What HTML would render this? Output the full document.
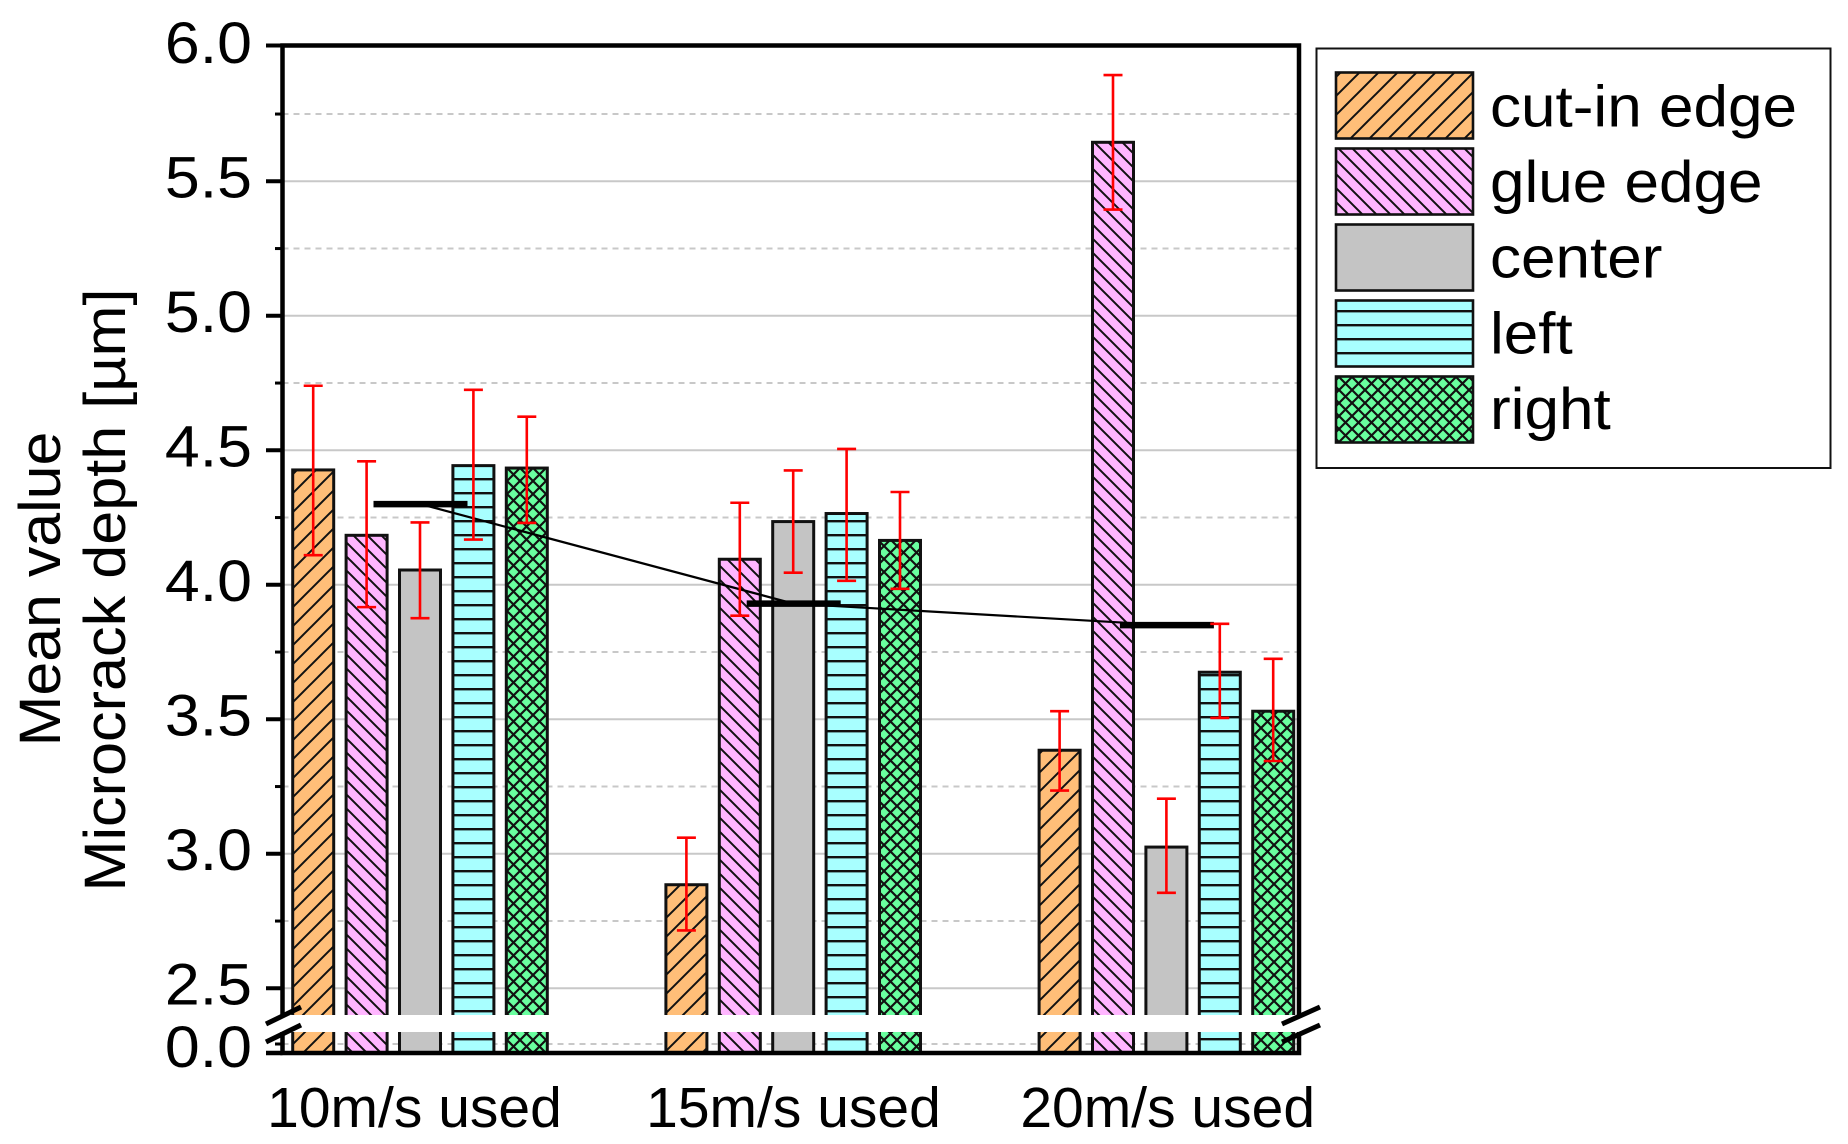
<!DOCTYPE html>
<html lang="en">
<head>
<meta charset="utf-8">
<title>Mean value microcrack depth</title>
<style>
html,body{margin:0;padding:0;background:#fff;}
svg{display:block;}
text{font-family:"Liberation Sans",sans-serif;fill:#000;}
</style>
</head>
<body>
<svg id="chart" xmlns="http://www.w3.org/2000/svg" width="1848" height="1144" viewBox="0 0 1848 1144">
  <defs>
    <pattern id="hatch-orange" patternUnits="userSpaceOnUse" width="19" height="19" patternTransform="translate(7,0)">
      <rect width="19" height="19" fill="#FFBE78"/>
      <path d="M-2 21L21 -2" stroke="#111" stroke-width="2"/>
      <path d="M-2 2L2 -2M17 21L21 17" stroke="#111" stroke-width="2"/>
    </pattern>
    <pattern id="hatch-pink" patternUnits="userSpaceOnUse" width="14" height="14">
      <rect width="14" height="14" fill="#FFB6FF"/>
      <path d="M-2 -2L16 16M-2 12L2 16M12 -2L16 2" stroke="#111" stroke-width="2"/>
    </pattern>
    <pattern id="hatch-grey" patternUnits="userSpaceOnUse" width="10" height="10">
      <rect width="10" height="10" fill="#C4C4C4"/>
    </pattern>
    <pattern id="hatch-cyan" patternUnits="userSpaceOnUse" width="14" height="14">
      <rect width="14" height="14" fill="#A8FFFF"/>
      <rect y="2" width="14" height="2.4" fill="#111"/>
    </pattern>
    <pattern id="hatch-green" patternUnits="userSpaceOnUse" width="13" height="13">
      <rect width="13" height="13" fill="#69FF9F"/>
      <path d="M-2 -2L15 15M-2 11L2 15M11 -2L15 2M-2 15L15 -2M-2 2L2 -2M11 15L15 11" stroke="#111" stroke-width="2.2"/>
    </pattern>
  </defs>
  <g id="grid"></g>
  <g id="bars"></g>
  <g id="axes"></g>
  <g id="means"></g>
  <g id="errors"></g>
  <g id="breaks"></g>
  <g id="labels"></g>
  <g id="legend"></g>
</svg>
<script>
var categories = ['10m/s used', '15m/s used', '20m/s used'];
var seriesNames = ['cut-in edge', 'glue edge', 'center', 'left', 'right'];
var seriesFills = ['hatch-orange', 'hatch-pink', 'hatch-grey', 'hatch-cyan', 'hatch-green'];
var cutInValues = [4.427, 2.885, 3.385];
var glueValues = [4.184, 4.095, 5.645];
var centerValues = [4.055, 4.235, 3.025];
var leftValues = [4.443, 4.265, 3.675];
var rightValues = [4.434, 4.165, 3.53];
var cutInHigh = [4.74, 3.06, 3.53];
var glueHigh = [4.459, 4.305, 5.895];
var centerHigh = [4.232, 4.425, 3.205];
var leftHigh = [4.725, 4.505, 3.855];
var rightHigh = [4.625, 4.345, 3.725];
var cutInLow = [4.11, 2.715, 3.235];
var glueLow = [3.917, 3.885, 5.395];
var centerLow = [3.876, 4.045, 2.855];
var leftLow = [4.168, 4.015, 3.505];
var rightLow = [4.23, 3.985, 3.345];
var meanValues = [4.30, 3.93, 3.85];
var majorTicks = [6.0, 5.5, 5.0, 4.5, 4.0, 3.5, 3.0, 2.5, 0.0];
var tickLabels = ['6.0', '5.5', '5.0', '4.5', '4.0', '3.5', '3.0', '2.5', '0.0'];
var minorTicks = [5.75, 5.25, 4.75, 4.25, 3.75, 3.25, 2.75, 0.25];

var seriesValues = [cutInValues, glueValues, centerValues, leftValues, rightValues];
var seriesHigh = [cutInHigh, glueHigh, centerHigh, leftHigh, rightHigh];
var seriesLow = [cutInLow, glueLow, centerLow, leftLow, rightLow];

var SVGNS = 'http://www.w3.org/2000/svg';
var axisLeft = 282.5, axisRight = 1299, axisTop = 45.5, axisBottom = 1053;
var breakTop = 1015, breakBottom = 1032;

function yScale(v) {
  if (v >= 1) { return 46.8 + (6 - v) * 269; }
  return 1053 - v * 36;
}
function groupCenter(g) { return 420.5 + g * 373.2; }
function barCenter(g, s) { return groupCenter(g) + (s - 2) * 53.4; }
function mk(tag, attrs, parent) {
  var el = document.createElementNS(SVGNS, tag);
  for (var k in attrs) { el.setAttribute(k, attrs[k]); }
  parent.appendChild(el);
  return el;
}
var grid = document.getElementById('grid');
var barsG = document.getElementById('bars');
var axes = document.getElementById('axes');
var means = document.getElementById('means');
var errors = document.getElementById('errors');
var breaks = document.getElementById('breaks');
var labels = document.getElementById('labels');
var legend = document.getElementById('legend');
var el;

majorTicks.forEach(function (v, i) {
  var y = yScale(v);
  if (v !== 6 && v !== 0) {
    el = mk('line', {x1: axisLeft, x2: axisRight, y1: y, y2: y, stroke: '#C8C8C8', 'stroke-width': 2}, grid);
    
    
  }
  var tickY = v === 6 ? axisTop : y;
  el = mk('line', {x1: 266, x2: axisLeft, y1: tickY, y2: tickY, stroke: '#000', 'stroke-width': 4}, axes);
  
  
  var baseline = v === 0 ? 1067 : y + 16;
  el = mk('text', {'font-size': 58, 'text-anchor': 'end', transform: 'translate(252,' + baseline + ') scale(1.08,1)'}, labels);
  el.textContent = tickLabels[i];
  
  
});

minorTicks.forEach(function (v) {
  var y = yScale(v);
  el = mk('line', {x1: axisLeft, x2: axisRight, y1: y, y2: y, stroke: '#C8C8C8', 'stroke-width': 2, 'stroke-dasharray': '6 5'}, grid);
  
  
  el = mk('line', {x1: 275, x2: axisLeft, y1: y, y2: y, stroke: '#000', 'stroke-width': 3}, axes);
  
  
});

var barW = 41;
seriesValues.forEach(function (vals, s) {
  vals.forEach(function (v, g) {
    var top = yScale(v);
    el = mk('rect', {x: barCenter(g, s) - 0.5 - barW / 2, y: top, width: barW, height: yScale(0) - top, fill: 'url(#' + seriesFills[s] + ')', stroke: '#111', 'stroke-width': 3}, barsG);
    
    
  });
});

el = mk('rect', {x: axisLeft, y: axisTop, width: axisRight - axisLeft, height: axisBottom - axisTop, fill: 'none', stroke: '#000', 'stroke-width': 4.5}, axes);


el = mk('line', {x1: 266, x2: axisLeft, y1: axisBottom, y2: axisBottom, stroke: '#000', 'stroke-width': 4.5}, axes);



var meanPts = meanValues.map(function (v, g) { return groupCenter(g) + ',' + yScale(v); }).join(' ');
el = mk('polyline', {points: meanPts, fill: 'none', stroke: '#000', 'stroke-width': 2.2}, means);


meanValues.forEach(function (v, g) {
  var y = yScale(v), c = groupCenter(g);
  el = mk('line', {x1: c - 47, x2: c + 47, y1: y, y2: y, stroke: '#000', 'stroke-width': 6.5}, means);
  
  
});

seriesHigh.forEach(function (highs, s) {
  highs.forEach(function (hi, g) {
    var lo = seriesLow[s][g];
    var x = barCenter(g, s) - 0.5;
    var yh = yScale(hi), yl = yScale(lo);
    el = mk('path', {d: 'M' + x + ' ' + yh + 'V' + yl + 'M' + (x - 9.5) + ' ' + yh + 'H' + (x + 9.5) + 'M' + (x - 9.5) + ' ' + yl + 'H' + (x + 9.5), fill: 'none', stroke: '#FF0000', 'stroke-width': 2.6}, errors);
    
    
  });
});

el = mk('rect', {x: axisLeft - 4, y: breakTop, width: axisRight - axisLeft + 8, height: breakBottom - breakTop, fill: '#fff'}, breaks);


var breakXs = [[266, 301], [1282, 1320]];
breakXs.forEach(function (xs) {
  [0, 18].forEach(function (dy) {
    el = mk('line', {x1: xs[0], x2: xs[1], y1: 1024 + dy, y2: 1007 + dy, stroke: '#000', 'stroke-width': 5}, breaks);
    
    
  });
});

categories.forEach(function (c, g) {
  el = mk('text', {x: groupCenter(g) - 6 + (g === 1 ? 5.8 : g * 3.4), y: 1127, 'font-size': 57, 'text-anchor': 'middle'}, labels);
  el.textContent = c;
  
  
});

el = mk('text', {'font-size': 58, 'text-anchor': 'middle', transform: 'translate(60,589) rotate(-90) scale(1.05,1)'}, labels);
el.textContent = 'Mean value';


el = mk('text', {'font-size': 58, 'text-anchor': 'middle', transform: 'translate(125,590) rotate(-90) scale(1.055,1)'}, labels);
el.textContent = 'Microcrack depth [\u00B5m]';



el = mk('rect', {x: 1316.5, y: 48.5, width: 514, height: 419.5, fill: '#fff', stroke: '#111', 'stroke-width': 2}, legend);


seriesNames.forEach(function (name, s) {
  var top = 72.5 + s * 76;
  el = mk('rect', {x: 1336, y: top, width: 137, height: 66, fill: 'url(#' + seriesFills[s] + ')', stroke: '#111', 'stroke-width': 2.6}, legend);
  
  
  el = mk('text', {'font-size': 58, transform: 'translate(1490,' + (126.5 + s * 75.6) + ') scale(1.07,1)'}, legend);
  el.textContent = name;
  
  
});
</script>
</body>
</html>
